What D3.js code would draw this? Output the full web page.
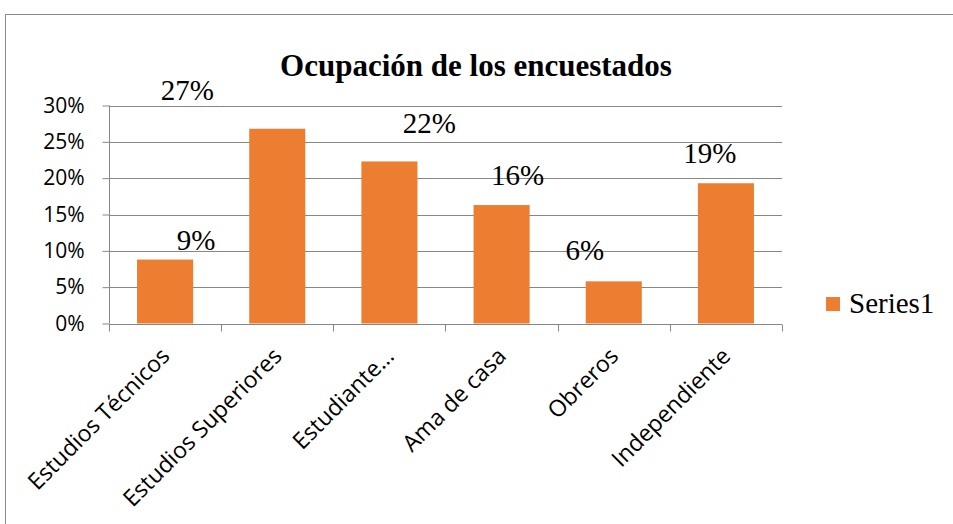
<!DOCTYPE html>
<html>
<head>
<meta charset="utf-8">
<script src="https://cdn.jsdelivr.net/npm/d3@7"></script>
<style>
    body { margin: 0; background: #fff; }
    .grid line { stroke: #878787; stroke-width: 1; }
    .axis path, .axis line { stroke: #878787; }
    .axis text { font-family: "Open Sans", sans-serif; font-size: 21px; fill: #000; }
    .x-axis text { font-size: 23px; }
    .serif { font-family: "Liberation Serif", Tinos, "Times New Roman", "DejaVu Serif", serif; fill: #000; }
</style>
</head>
<body>
<div id="chart"></div>
<script>
// data
var categories = ["Estudios Técnicos", "Estudios Superiores", "Estudiante…", "Ama de casa", "Obreros", "Independiente"];
var values = [0.088, 0.268, 0.223, 0.163, 0.058, 0.193];
var valueLabels = ["9%", "27%", "22%", "16%", "6%", "19%"];
var yTicks = [0, 0.05, 0.10, 0.15, 0.20, 0.25, 0.30];
var seriesName = "Series1";

// the data labels were dragged around by hand in the original
var labelShift = [[31, -10], [-90, -29], [40, -28], [16, -20], [-29, -21], [-16, -20]];

var width = 953, height = 524;
var plot = { left: 109, right: 782, top: 105.5, bottom: 323.5 };

var svg = d3.select("#chart").append("svg")
    .attr("width", width)
    .attr("height", height);

// outer frame
svg.append("rect")
    .attr("x", 5.5)
    .attr("y", 14.5)
    .attr("width", width + 10)
    .attr("height", height + 10)
    .style("fill", "#fff")
    .style("stroke", "#8a8a8a");

var x = d3.scaleBand()
    .domain(categories)
    .range([plot.left, plot.right])
    .paddingInner(0.5)
    .paddingOuter(0.25);

var y = d3.scaleLinear()
    .domain([0, 0.3])
    .range([plot.bottom, plot.top]);

// gridlines
svg.append("g")
    .attr("class", "grid")
    .selectAll("line")
    .data(yTicks.slice(1))
    .enter().append("line")
    .attr("x1", plot.left)
    .attr("x2", plot.right)
    .attr("y1", function(d) { return Math.round(y(d)) + 0.5; })
    .attr("y2", function(d) { return Math.round(y(d)) + 0.5; });

// y axis
var yAxis = d3.axisLeft(y)
    .tickValues(yTicks)
    .tickFormat(d3.format(".0%"))
    .tickSize(7)
    .tickPadding(18);

var yG = svg.append("g")
    .attr("class", "axis y-axis")
    .attr("transform", "translate(" + (plot.left + 0.5) + ",0)")
    .call(yAxis);
yG.select(".domain").attr("d", "M0," + plot.top + "V" + plot.bottom);

// bars
svg.selectAll(".bar")
    .data(values)
    .enter().append("rect")
    .attr("class", "bar")
    .attr("x", function(d, i) { return x(categories[i]); })
    .attr("width", x.bandwidth())
    .attr("y", function(d) { return y(d); })
    .attr("height", function(d) { return y(0) - y(d); })
    .style("fill", "#ED7D31");

// x axis: ticks sit on the category boundaries
var xG = svg.append("g")
    .attr("class", "axis x-axis")
    .attr("transform", "translate(0," + (Math.round(plot.bottom) + 0.5) + ")");

xG.append("line")
    .attr("x1", plot.left)
    .attr("x2", plot.right)
    .style("stroke", "#878787");

var bounds = categories.map(function(c) { return x(c) - x.step() * x.paddingOuter(); });
bounds.push(plot.right);

xG.selectAll(".tick-mark")
    .data(bounds)
    .enter().append("line")
    .attr("class", "tick-mark")
    .attr("x1", function(d) { return Math.round(d) + 0.5; })
    .attr("x2", function(d) { return Math.round(d) + 0.5; })
    .attr("y1", 0)
    .attr("y2", 7)
    .style("stroke", "#878787");

xG.selectAll(".cat-label")
    .data(categories)
    .enter().append("text")
    .attr("class", "cat-label")
    .attr("text-anchor", "end")
    .attr("transform", function(d) {
        return "translate(" + (x(d) + x.bandwidth() / 2 + 6) + ",33) rotate(-45)";
    })
    .text(function(d) { return d; });

// data labels
svg.selectAll(".value-label")
    .data(values)
    .enter().append("text")
    .attr("class", "value-label serif")
    .attr("text-anchor", "middle")
    .attr("x", function(d, i) { return x(categories[i]) + x.bandwidth() / 2 + labelShift[i][0]; })
    .attr("y", function(d, i) { return y(d) + labelShift[i][1]; })
    .style("font-size", "29px")
    .text(function(d, i) { return valueLabels[i]; });

// title
svg.append("text")
    .attr("class", "serif")
    .attr("x", 476)
    .attr("y", 76)
    .attr("text-anchor", "middle")
    .style("font-weight", "bold")
    .style("font-size", "31px")
    .text("Ocupación de los encuestados");

// legend
var legend = svg.append("g")
    .attr("transform", "translate(826,297)");

legend.append("rect")
    .attr("width", 14)
    .attr("height", 14)
    .style("fill", "#ED7D31");

legend.append("text")
    .attr("class", "serif")
    .attr("x", 23)
    .attr("y", 16)
    .style("font-size", "29px")
    .text(seriesName);
</script>
</body>
</html>
